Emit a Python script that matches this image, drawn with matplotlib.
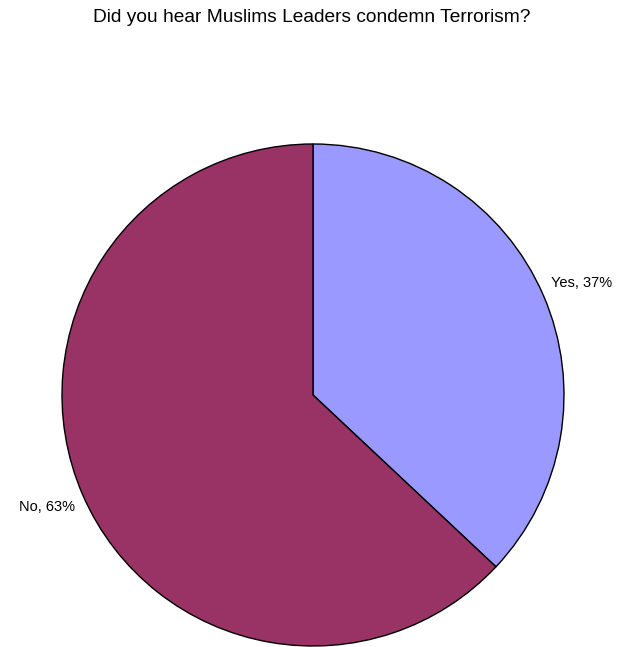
import matplotlib
matplotlib.use("Agg")
import matplotlib.pyplot as plt

labels = ["Yes", "No"]
shares = [37, 63]
colors = ["#9999FF", "#993366"]

plt.rcParams['font.family'] = ['Liberation Sans', 'DejaVu Sans']

fig = plt.figure(figsize=(6.23, 6.47), dpi=100)
ax = fig.add_axes([62/623., 1/647., 502/623., 502/647.])

texts = ["%s, %d%%" % (l, s) for l, s in zip(labels, shares)]
wedges, txts = ax.pie(shares, labels=texts, colors=colors, startangle=90,
                      counterclock=False, labeldistance=1.035,
                      wedgeprops=dict(edgecolor='black', linewidth=1.0),
                      textprops=dict(fontsize=10.5))
# labels sit a little further from the horizontal than the slice mid angle
for t in txts:
    x, y = t.get_position()
    t.set_position((x, y * 1.09))
ax.set_xlim(-1.0, 1.0)
ax.set_ylim(-1.0, 1.0)

fig.text(0.5, 1 - 18/647., "Did you hear Muslims Leaders condemn Terrorism?",
         ha='center', va='center', fontsize=13.8)

fig.savefig("out.png", dpi=100)
